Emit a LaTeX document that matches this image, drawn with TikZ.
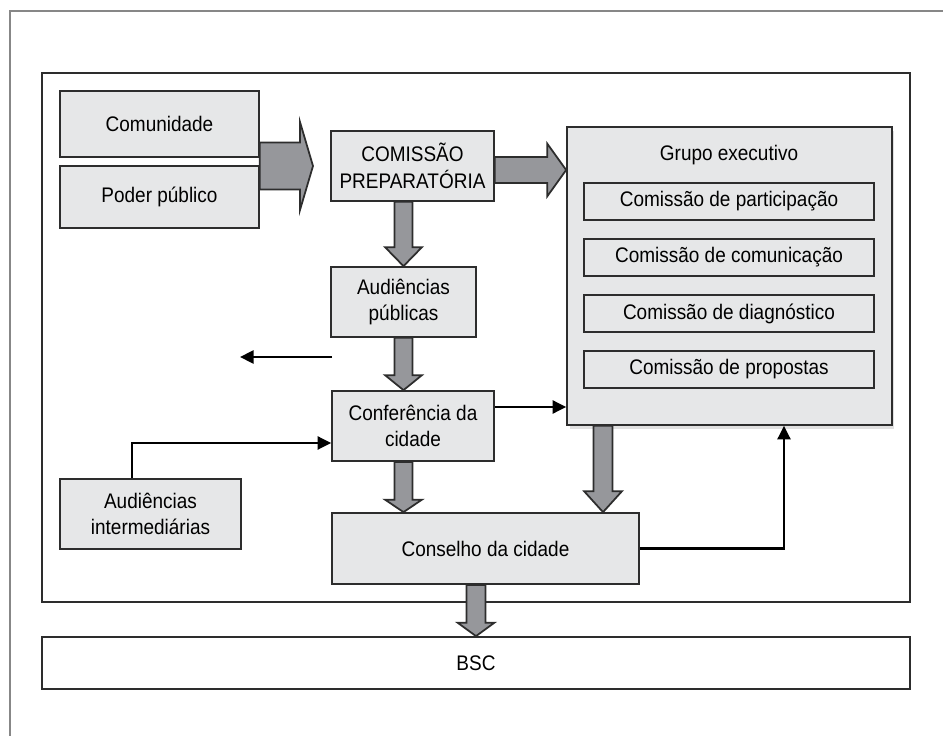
\documentclass[tikz,border=0pt]{standalone}
\usepackage{fontspec}
\setmainfont{Liberation Sans}[FakeStretch=0.9]
\usepackage{tikz}
\usetikzlibrary{positioning,arrows.meta,calc,shadows}
\definecolor{cbox}{RGB}{230,231,232}
\definecolor{cfat}{RGB}{150,151,155}
\definecolor{cedge}{RGB}{45,45,45}
\definecolor{cframe}{RGB}{135,135,135}

\begin{document}
\begin{tikzpicture}[x=0.02cm, y=-0.02cm,
          every node/.style={font=\fontsize{12}{15}\selectfont},
          box/.style={draw=cedge, line width=1pt, fill=cbox, inner sep=2pt,
          minimum height=1.4cm, align=center},
          sub/.style={box, minimum width=5.8cm, minimum height=0.74cm},
          fat/.style={draw=cedge, line width=1pt, fill=cfat, line join=miter},
          arr/.style={-{Triangle[length=0.27cm,width=0.26cm]}, line width=1.3pt,
          draw=black},
        ]

          % fat arrows: #1 start, #2 tip, #3 shaft half, #4 head half, #5 head length
          \def\fatdown#1#2#3#4#5{\draw[fat] let \p1=(#1), \p2=(#2) in
            (\x1-#3,\y1) -- (\x1-#3,\y2+#5) -- (\x1-#4,\y2+#5) -- (\x1,\y2)
            -- (\x1+#4,\y2+#5) -- (\x1+#3,\y2+#5) -- (\x1+#3,\y1) -- cycle;}
          \def\fatright#1#2#3#4#5{\draw[fat] let \p1=(#1), \p2=(#2) in
            (\x1,\y1+#3) -- (\x2-#5,\y1+#3) -- (\x2-#5,\y1+#4) -- (\x2,\y1)
            -- (\x2-#5,\y1-#4) -- (\x2-#5,\y1-#3) -- (\x1,\y1-#3) -- cycle;}

          \useasboundingbox (0,0) rectangle (943,736);

          % ── Frames ───────────────────────────────────────────
          \draw[cframe, line width=1.7pt] (10,736) -- (10,11) -- (943,11);
          \draw[cedge, line width=1pt] (42,73) rectangle (910,602);

          % ── Boxes ────────────────────────────────────────────
          \node[box, minimum width=3.98cm, minimum height=1.32cm] (com)
            at (159.5,124) {Comunidade};
          \node[box, minimum width=3.98cm, minimum height=1.24cm] (poder)
            at (159.5,197) {Poder público};
          \node[box, minimum width=3.26cm] (prep) at (412.5,166)
            {COMISSÃO\\PREPARATÓRIA};
          \node[box, minimum width=2.9cm]  (audpub) at (403.5,302)
            {Audiências\\públicas};
          \node[box, minimum width=3.24cm] (conf) at (413,426)
            {Conferência da\\cidade};
          \node[box, minimum width=6.14cm, minimum height=1.42cm] (cons)
            at (485.5,548.5) {Conselho da cidade};
          \node[box, minimum width=3.62cm] (audint) at (150.5,514)
            {Audiências\\intermediárias};
          \node[box, fill=white, minimum width=17.36cm, minimum height=1.04cm]
            (bsc) at (476,663) {BSC};

          % Grupo executivo
          \node[box, minimum width=6.5cm, minimum height=5.96cm,
            drop shadow={shadow xshift=0.05cm, shadow yshift=-0.08cm,
            fill=black!12, opacity=1}] (grupo) at (729.5,276) {};
          \node (gtitle) at (729,155) {Grupo executivo};
          \node[sub] (cpart) at (729,201.5) {Comissão de participação};
          \node[sub] (ccom)  at (729,257.5) {Comissão de comunicação};
          \node[sub] (cdiag) at (729,313.5) {Comissão de diagnóstico};
          \node[sub] (cprop) at (729,369.5) {Comissão de propostas};

          % ── Fat arrows ───────────────────────────────────────
          \coordinate (inTip) at (313,166);
          \fatright{com.east |- prep.west}{inTip}{0.47cm}{0.88cm}{0.26cm}
          \fatright{[yshift=-0.08cm]prep.east}{grupo.west}{0.26cm}{0.53cm}{0.38cm}
          \fatdown{audpub.north |- prep.south}{audpub.north}{0.18cm}{0.37cm}{0.38cm}
          \fatdown{audpub.south}{conf.north}{0.18cm}{0.37cm}{0.3cm}
          \fatdown{conf.south -| audpub.south}{cons.north}{0.18cm}{0.37cm}{0.25cm}
          \fatdown{[xshift=-2.53cm]grupo.south}{cons.north}{0.19cm}{0.38cm}{0.42cm}
          \fatdown{cons.south -| bsc.north}{bsc.north}{0.19cm}{0.37cm}{0.27cm}

          % ── Thin arrows ──────────────────────────────────────
          \coordinate (confOut) at ([yshift=0.38cm]conf.east);
          \coordinate (confIn)  at ([yshift=-0.34cm]conf.west);
          \coordinate (outA) at (332,357);
          \coordinate (outB) at (240,357);
          \draw[arr] (confOut) -- (confOut -| grupo.west);
          \draw[arr] ([xshift=-0.37cm]audint.north) |- (confIn);
          \draw[arr] (cons.east) -| ([xshift=1.09cm]grupo.south);
          \draw[arr] (outA) -- (outB);

        \end{tikzpicture}
\end{document}
